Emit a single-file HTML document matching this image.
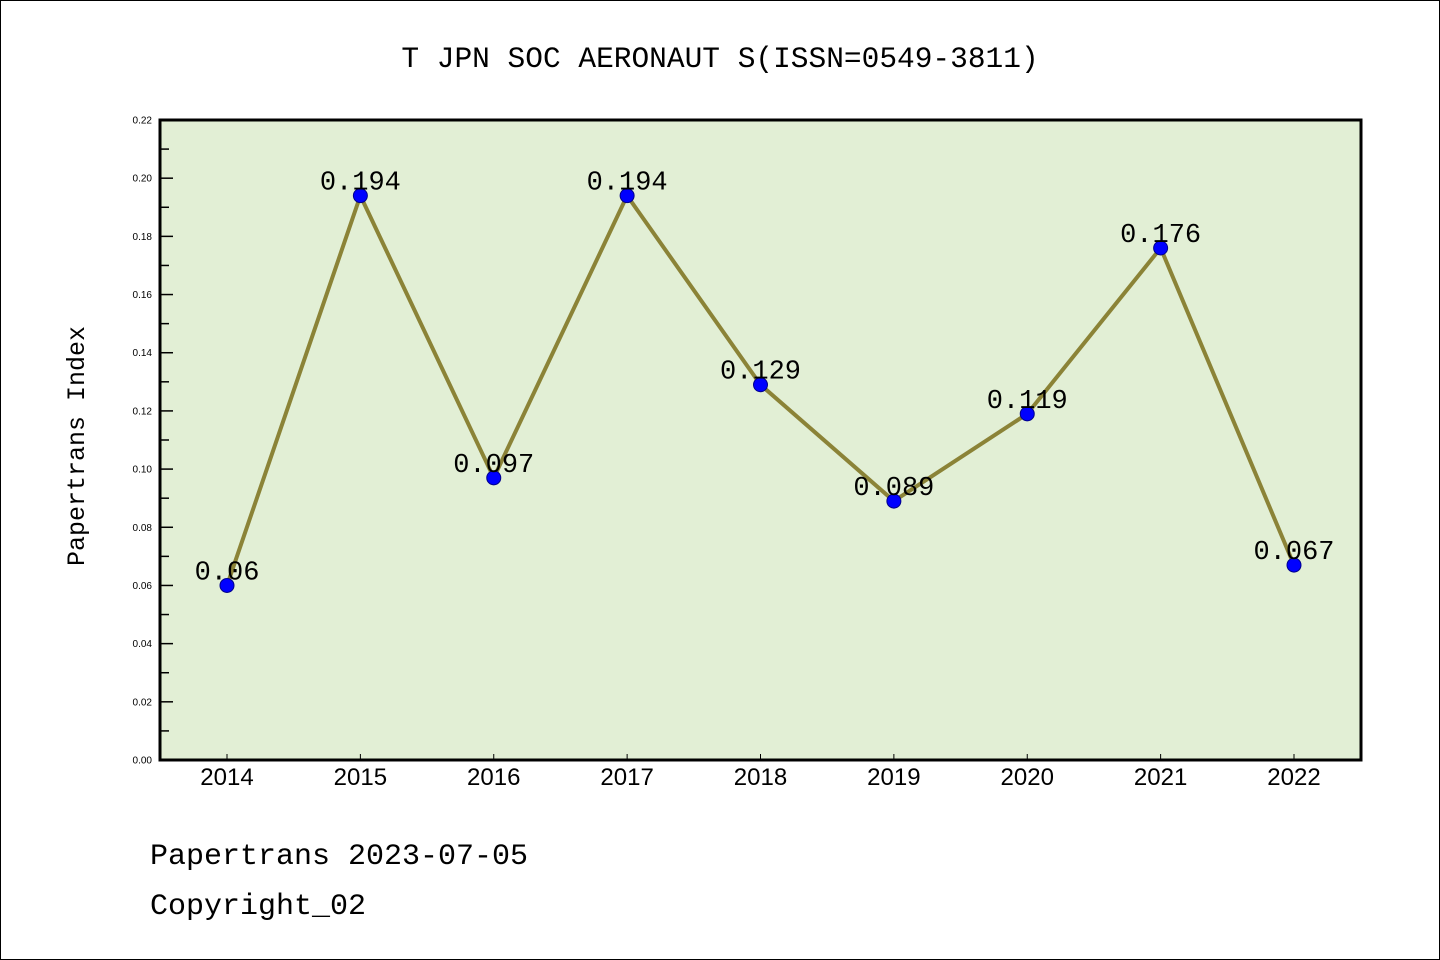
<!DOCTYPE html>
<html><head><meta charset="utf-8"><style>
html,body{margin:0;padding:0;background:#fff}
svg{display:block}
.cjk{font-family:"Liberation Mono","WenQuanYi Zen Hei",monospace}
</style></head><body>
<svg id="chart" width="1440" height="960" xmlns="http://www.w3.org/2000/svg">
<rect x="0.5" y="0.5" width="1439" height="959" fill="#fff" stroke="#000"/>
<text x="720" y="67" text-anchor="middle" font-size="29.5" class="cjk">T JPN SOC AERONAUT S(ISSN=0549-3811)</text>
<rect x="160" y="120" width="1201" height="640" fill="#e2efd5"/>
<g id="yaxis"></g>
<g id="xaxis"></g>
<g id="series"></g>
<rect x="160" y="120" width="1201" height="640" fill="none" stroke="#000" stroke-width="3"/>
<text transform="translate(84,446) rotate(-90)" text-anchor="middle" font-size="25" class="cjk">Papertrans Index</text>
<text x="150" y="864" font-size="30" class="cjk">Papertrans 2023-07-05</text>
<text x="150" y="914" font-size="30" class="cjk">Copyright_02</text>
</svg>
<script>
const years=["2014","2015","2016","2017","2018","2019","2020","2021","2022"];
const values=[0.06,0.194,0.097,0.194,0.129,0.089,0.119,0.176,0.067];
const valueLabels=["0.06","0.194","0.097","0.194","0.129","0.089","0.119","0.176","0.067"];
const yTicks=["0.00","0.02","0.04","0.06","0.08","0.10","0.12","0.14","0.16","0.18","0.20","0.22"];
const NS="http://www.w3.org/2000/svg";
const yMax=0.22, plotTop=120, plotBottom=760;
function yS(v){return plotBottom-(v/yMax)*(plotBottom-plotTop);}
function xS(i){return 227+i*(1294-227)/(years.length-1);}
function mk(tag,attrs,parent){const e=document.createElementNS(NS,tag);for(const k in attrs)e.setAttribute(k,attrs[k]);parent.appendChild(e);return e;}
const ya=document.getElementById('yaxis'),xa=document.getElementById('xaxis'),se=document.getElementById('series');
yTicks.forEach((t,i)=>{const v=parseFloat(t);const y=yS(v);
 const l=mk('line',{x1:160,x2:173,y1:y,y2:y,stroke:'#000','stroke-width':1.5},ya);
 
 
 const tx=mk('text',{x:152,y:y+3.5,'text-anchor':'end','font-size':10,'font-family':'Liberation Sans, sans-serif'},ya);
 tx.textContent=t;
 
 
 if(i<yTicks.length-1){const ym=yS(v+0.01);
  const m=mk('line',{x1:160,x2:169,y1:ym,y2:ym,stroke:'#000','stroke-width':1.5},ya);
  
  }
});
years.forEach((yr,i)=>{const x=xS(i);
 const l=mk('line',{x1:x,x2:x,y1:760,y2:754,stroke:'#000','stroke-width':1},xa);
 
 
 const t=mk('text',{x:x,y:785,'text-anchor':'middle','font-size':24,'font-family':'Liberation Sans, sans-serif'},xa);
 t.textContent=yr;
 
 
});
const pts=values.map((v,i)=>xS(i)+','+yS(v)).join(' ');
const pl=mk('polyline',{points:pts,fill:'none',stroke:'#8b8337','stroke-width':4,'stroke-linejoin':'round'},se);


values.forEach((v,i)=>{
 const c=mk('circle',{cx:xS(i),cy:yS(v),r:7,fill:'#0000ff',stroke:'#00008b','stroke-width':1},se);
 
 
 const t=mk('text',{x:xS(i),y:yS(v)-6,'text-anchor':'middle','font-size':27,class:'cjk'},se);
 t.textContent=valueLabels[i];
 
 
});
</script>
</body></html>
